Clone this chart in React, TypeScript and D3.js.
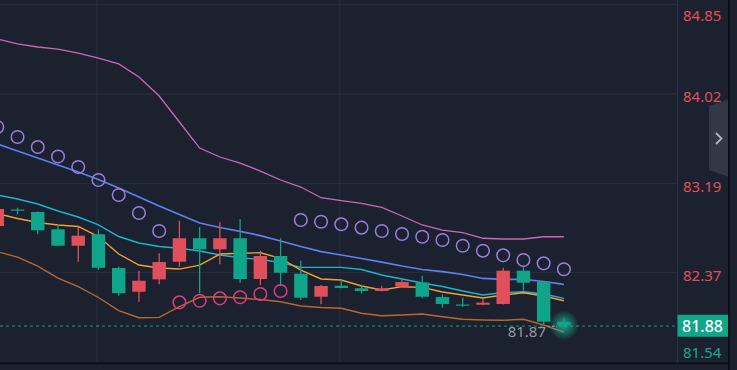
import React from "react";
import * as d3 from "d3";

const W = 737;
const H = 370;

// Candles (index 0..28)
const opens = [82.798, 82.951, 82.928, 82.768, 82.616, 82.722, 82.410, 82.190, 82.305, 82.468, 82.685, 82.583, 82.685, 82.308, 82.521, 82.357, 82.144, 82.246, 82.222, 82.197, 82.237, 82.277, 82.141, 82.072, 82.070, 82.077, 82.385, 82.283, 81.91];
const highs = [82.983, 82.968, 82.933, 82.808, 82.792, 82.768, 82.422, 82.382, 82.546, 82.847, 82.789, 82.833, 82.863, 82.570, 82.685, 82.477, 82.252, 82.305, 82.257, 82.246, 82.301, 82.338, 82.166, 82.135, 82.129, 82.412, 82.416, 82.287, 81.95];
const lows = [82.780, 82.907, 82.722, 82.613, 82.468, 82.394, 82.153, 82.098, 82.259, 82.422, 82.176, 82.444, 82.274, 82.252, 82.243, 82.114, 82.074, 82.222, 82.174, 82.192, 82.234, 82.129, 82.042, 82.052, 82.067, 82.072, 82.200, 81.891, 81.87];
const closes = [82.956, 82.942, 82.759, 82.616, 82.709, 82.412, 82.176, 82.292, 82.465, 82.685, 82.583, 82.685, 82.308, 82.521, 82.366, 82.135, 82.243, 82.225, 82.197, 82.222, 82.280, 82.144, 82.077, 82.063, 82.089, 82.385, 82.274, 81.913, 81.88];

// Indicator lines
const upperBand = [84.529, 84.483, 84.455, 84.436, 84.399, 84.353, 84.298, 84.177, 84.001, 83.761, 83.520, 83.437, 83.381, 83.307, 83.224, 83.159, 83.060, 83.033, 83.008, 82.971, 82.891, 82.808, 82.761, 82.738, 82.685, 82.678, 82.678, 82.699, 82.699];
const blueLine = [83.557, 83.492, 83.428, 83.363, 83.298, 83.229, 83.150, 83.067, 82.983, 82.905, 82.826, 82.785, 82.748, 82.710, 82.660, 82.609, 82.562, 82.530, 82.498, 82.465, 82.428, 82.396, 82.377, 82.350, 82.313, 82.305, 82.305, 82.285, 82.259];
const cyanLine = [83.085, 83.048, 83.002, 82.937, 82.882, 82.808, 82.701, 82.641, 82.609, 82.592, 82.567, 82.530, 82.505, 82.488, 82.461, 82.416, 82.416, 82.416, 82.396, 82.345, 82.308, 82.271, 82.239, 82.197, 82.160, 82.183, 82.190, 82.169, 82.129];
const orangeLine = [82.914, 82.868, 82.831, 82.808, 82.794, 82.701, 82.539, 82.437, 82.410, 82.400, 82.437, 82.539, 82.546, 82.551, 82.499, 82.391, 82.308, 82.299, 82.243, 82.206, 82.237, 82.231, 82.188, 82.160, 82.132, 82.160, 82.181, 82.151, 82.107];
const lowerBand = [82.561, 82.511, 82.428, 82.317, 82.237, 82.137, 82.016, 81.950, 81.953, 82.052, 82.139, 82.144, 82.132, 82.118, 82.098, 82.058, 82.044, 82.037, 81.991, 81.968, 81.975, 81.984, 81.959, 81.935, 81.929, 81.926, 81.935, 81.882, 81.817];
const sar = [83.715, 83.622, 83.529, 83.442, 83.344, 83.224, 83.085, 82.919, 82.752, 82.092, 82.107, 82.129, 82.139, 82.169, 82.197, 82.854, 82.838, 82.814, 82.783, 82.752, 82.724, 82.699, 82.669, 82.616, 82.570, 82.527, 82.484, 82.453, 82.398];

const priceTicks = [84.85, 84.02, 83.19, 82.37, 81.54];
const timeGridIdx = [5, 17];
const lastPrice = 81.88;
const lowMark = 81.87;

const BG = "#1b212e";
const UP = "#e0505c";
const DOWN = "#10a58b";

export default function App() {
  const plotRight = 677;
  const plotBottom = 362.5;
  const x = d3.scaleLinear().domain([0, 28]).range([-2.7, 563.9]);
  const y = d3.scaleLinear().domain([81.54, 84.85]).range([362, 4.3]);
  const bw = 13.4;
  const idx = d3.range(closes.length);

  const line = (arr: number[]) =>
    d3.line<number>().x((_, i) => x(i)).y((v) => y(v))(arr) || "";

  const lastIdx = closes.length - 1;
  const labelY = (v: number) => Math.max(15, Math.min(351.7, y(v) + 2.5));

  return (
    <svg
      width={W}
      height={H}
      style={{ position: "absolute", left: 0, top: 0, display: "block" }}
      fontFamily="'Noto Sans', sans-serif"
    >
      <defs>
        <clipPath id="plot">
          <rect x={0} y={0} width={plotRight} height={plotBottom} />
        </clipPath>
        <radialGradient id="glow">
          <stop offset="0%" stopColor="#1ad0a8" stopOpacity={0.75} />
          <stop offset="55%" stopColor="#1ad0a8" stopOpacity={0.35} />
          <stop offset="100%" stopColor="#1ad0a8" stopOpacity={0} />
        </radialGradient>
      </defs>
      <rect x={0} y={0} width={W} height={H} fill={BG} />

      {/* grid */}
      {priceTicks.slice(0, 4).map((v) => (
        <line key={v} x1={0} x2={plotRight} y1={y(v)} y2={y(v)} stroke="#283040" strokeWidth={1} />
      ))}
      {timeGridIdx.map((i) => (
        <line key={i} x1={x(i) - 1.5} x2={x(i) - 1.5} y1={0} y2={plotBottom} stroke="#283040" strokeWidth={1} />
      ))}

      <g clipPath="url(#plot)">
        {/* indicator lines */}
        <path d={line(upperBand)} fill="none" stroke="#cf66b6" strokeWidth={1.3} />
        <path d={line(lowerBand)} fill="none" stroke="#b8672f" strokeWidth={1.4} />
        <path d={line(blueLine)} fill="none" stroke="#6080ee" strokeWidth={1.7} />
        <path d={line(cyanLine)} fill="none" stroke="#1cb4d2" strokeWidth={1.4} />
        <path d={line(orangeLine)} fill="none" stroke="#f2a033" strokeWidth={1.4} />

        {/* last price line */}
        <line x1={0} x2={plotRight} y1={y(lastPrice) + 0.8} y2={y(lastPrice) + 0.8} stroke="#14a086" strokeWidth={1} strokeDasharray="3,3" />

        {/* glow on last candle */}
        <circle cx={x(lastIdx)} cy={y(lastPrice)} r={15} fill="url(#glow)" />

        {/* candles */}
        {idx.map((i) => {
          const o = opens[i];
          const c = closes[i];
          const up = c >= o;
          const col = up ? UP : DOWN;
          const top = y(Math.max(o, c));
          const bot = y(Math.min(o, c));
          return (
            <g key={i}>
              <line x1={x(i)} x2={x(i)} y1={y(highs[i])} y2={y(lows[i])} stroke={col} strokeWidth={1.3} />
              <rect x={x(i) - bw / 2} y={top} width={bw} height={Math.max(1.2, bot - top)} fill={col} />
            </g>
          );
        })}

        {/* SAR */}
        {idx.map((i) => {
          const above = sar[i] > highs[i];
          return (
            <circle
              key={"s" + i}
              cx={x(i)}
              cy={y(sar[i])}
              r={6.3}
              fill="none"
              stroke={above ? "#9b7ddf" : "#e03a86"}
              strokeWidth={1.5}
            />
          );
        })}

        {/* low marker */}
        <text x={546} y={y(lowMark) + 5} textAnchor="end" dominantBaseline="central" fill="#9399a4" fontSize={15}>
          {lowMark.toFixed(2)}
        </text>
        <line x1={548} x2={557} y1={y(lowMark)} y2={y(lowMark)} stroke="#9399a4" strokeWidth={1} strokeDasharray="2,2" />
      </g>

      {/* axis separators */}
      <line x1={plotRight + 0.5} x2={plotRight + 0.5} y1={0} y2={plotBottom} stroke="#2a3242" strokeWidth={1} />
      <rect x={0} y={362.5} width={729} height={1.6} fill="#0b0e14" />
      <rect x={728} y={0} width={1.8} height={H} fill="#0b0e14" />

      {/* price labels */}
      {priceTicks.map((v) => (
        <text
          key={"t" + v}
          x={683}
          y={labelY(v)}
          dominantBaseline="central"
          fill={v === 81.54 ? "#17a88b" : "#e0505c"}
          fontSize={15}
        >
          {v.toFixed(2)}
        </text>
      ))}

      {/* last price tag */}
      <rect x={677.5} y={y(lastPrice) - 10.5} width={50.5} height={22} fill="#0fa68a" />
      <text x={702.5} y={y(lastPrice) + 0.8} textAnchor="middle" dominantBaseline="central" fill="#ffffff" fontSize={16} fontWeight={500}>
        {lastPrice.toFixed(2)}
      </text>

      {/* side collapse button */}
      <path d="M728,99.5 L709,106 L709,170 L728,176.5 Z" fill="#323846" />
      <path d="M716,133 L721.5,138.5 L716,144" fill="none" stroke="#aeb4bf" strokeWidth={1.8} />
    </svg>
  );
}
